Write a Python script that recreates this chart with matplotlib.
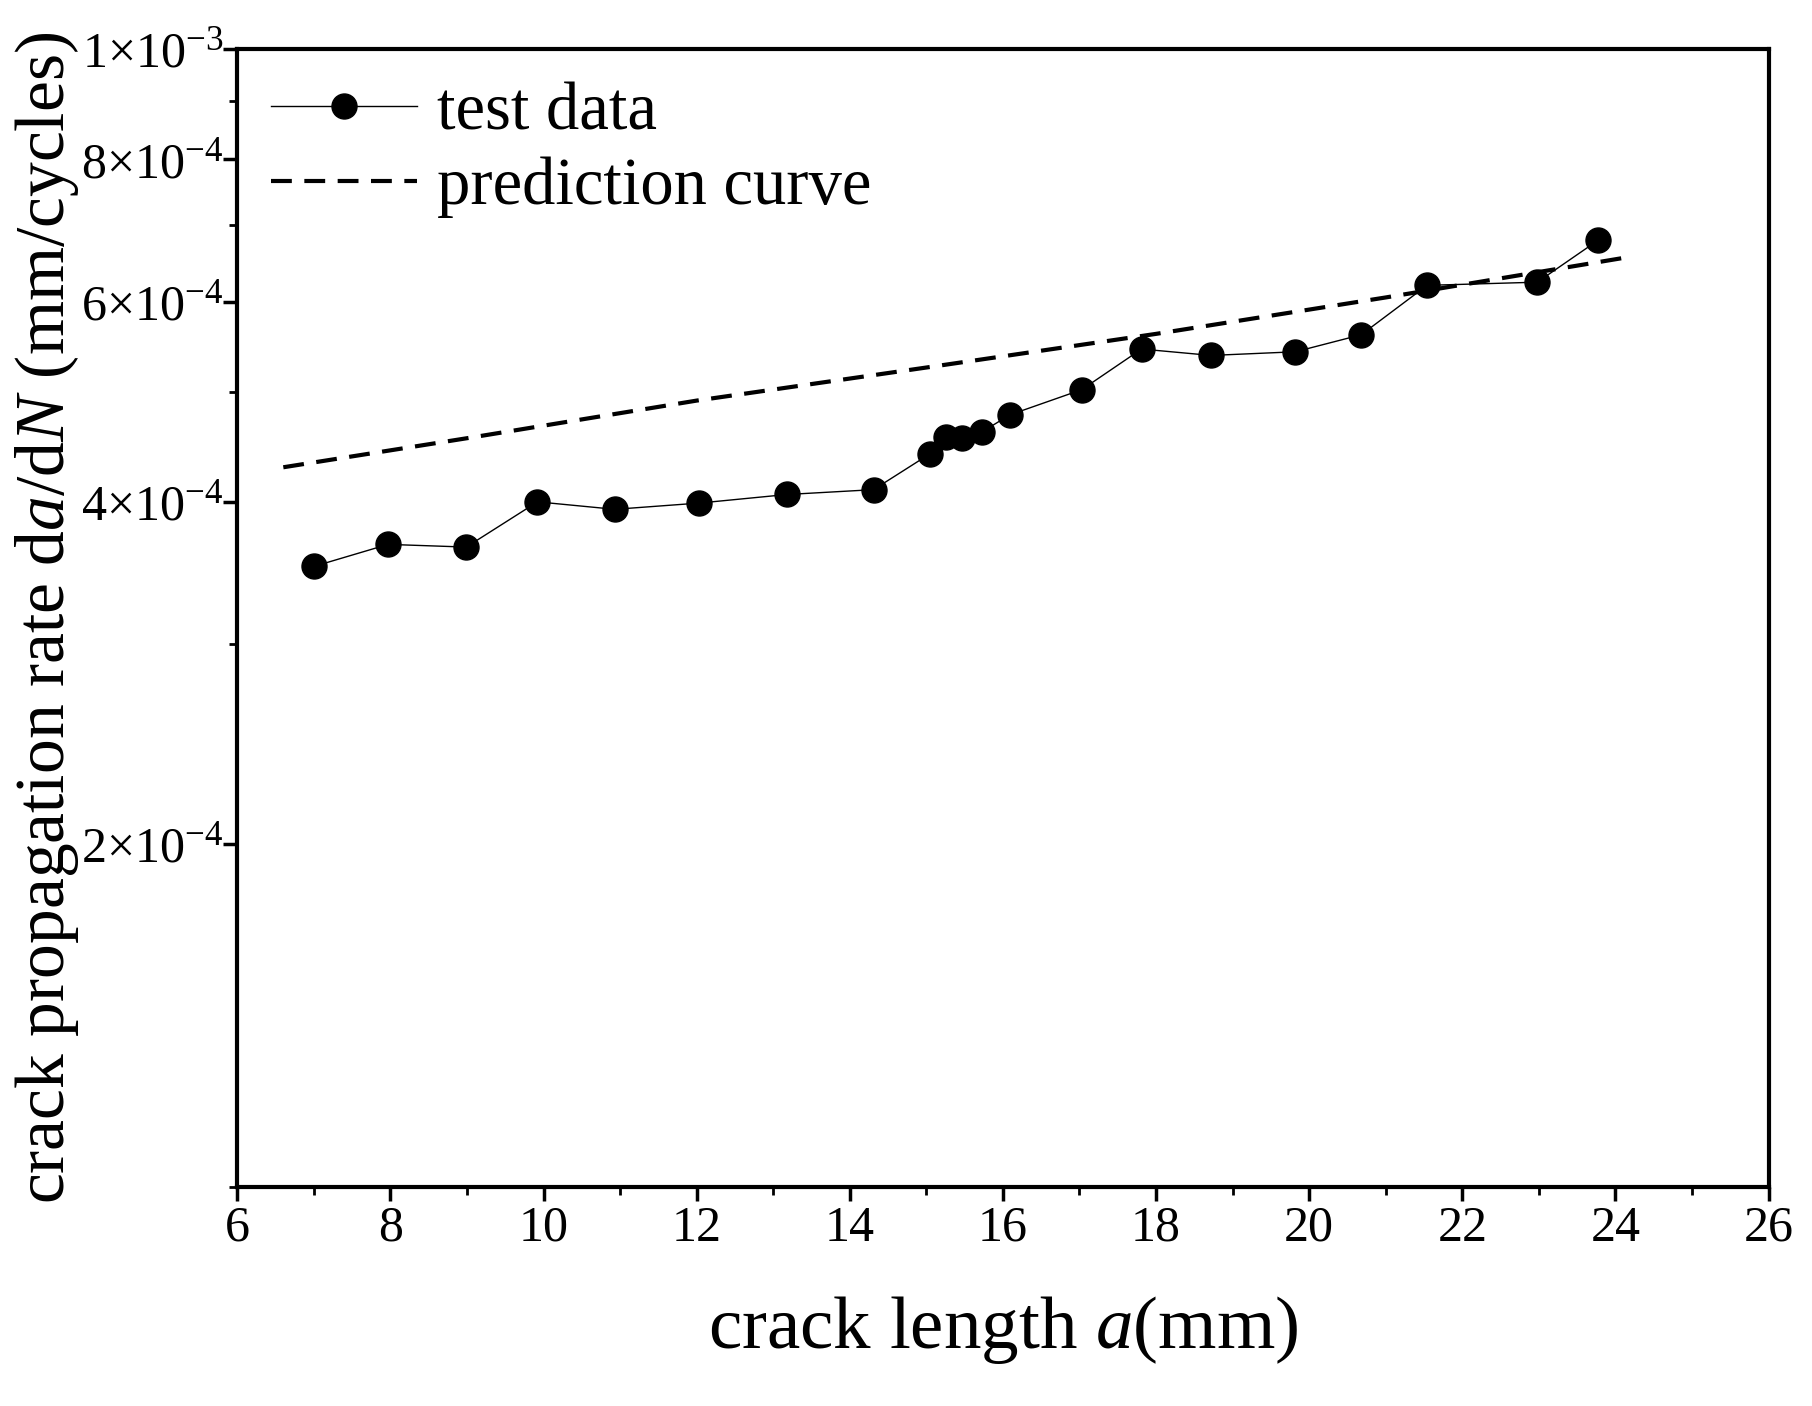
import matplotlib
matplotlib.use("Agg")
import matplotlib.pyplot as plt
from matplotlib.ticker import FixedLocator, FixedFormatter, MultipleLocator, NullFormatter

plt.rcParams["font.family"] = "Liberation Serif"
plt.rcParams["mathtext.fontset"] = "custom"
plt.rcParams["mathtext.rm"] = "Liberation Serif"
plt.rcParams["mathtext.it"] = "Liberation Serif:italic"

a_test = [7.0, 7.97, 8.99, 9.92, 10.93, 12.03, 13.18, 14.31, 15.05, 15.25, 15.47, 15.73,
          16.09, 17.03, 17.81, 18.72, 19.82, 20.68, 21.54, 22.98, 23.77]
rate_test = [3.51e-4, 3.67e-4, 3.65e-4, 4.00e-4, 3.94e-4, 3.99e-4, 4.06e-4, 4.10e-4, 4.41e-4,
             4.56e-4, 4.55e-4, 4.61e-4, 4.77e-4, 5.02e-4, 5.45e-4, 5.38e-4, 5.42e-4, 5.61e-4,
             6.20e-4, 6.24e-4, 6.79e-4]
a_pred = [6.6, 9.0, 12.0, 15.0, 18.0, 21.0, 24.2]
rate_pred = [4.29e-4, 4.55e-4, 4.91e-4, 5.25e-4, 5.62e-4, 6.05e-4, 6.57e-4]

ytick_vals = [2e-4, 4e-4, 6e-4, 8e-4, 1e-3]
ytick_labels = [r"$2{\times}10^{-4}$", r"$4{\times}10^{-4}$", r"$6{\times}10^{-4}$",
                r"$8{\times}10^{-4}$", r"$1{\times}10^{-3}$"]

fig = plt.figure(figsize=(18.12, 14.06), dpi=100)
ax = fig.add_axes([0.131, 0.156, 0.845, 0.809])
ax.plot(a_test, rate_test, "-", color="black", lw=1, marker="o", ms=18, label="test data")
ax.plot(a_pred, rate_pred, "--", color="black", lw=3, dashes=(5, 3), label="prediction curve")
ax.set_yscale("log")
ax.set_xlim(6, 26)
ax.set_ylim(1e-4, 1e-3)
ax.xaxis.set_major_locator(MultipleLocator(2))
ax.xaxis.set_minor_locator(MultipleLocator(1))
ax.yaxis.set_major_locator(FixedLocator(ytick_vals))
ax.yaxis.set_major_formatter(FixedFormatter(ytick_labels))
ax.yaxis.set_minor_locator(FixedLocator([1e-4, 3e-4, 5e-4, 7e-4, 9e-4]))
ax.yaxis.set_minor_formatter(NullFormatter())
for s in ax.spines.values():
    s.set_linewidth(3)
ax.tick_params(which="major", length=10, width=2.5, labelsize=36)
ax.tick_params(which="minor", length=6, width=2)
ax.tick_params(axis="y", pad=0)
ax.set_xlabel(r"crack length $\mathit{a}$(mm)", fontsize=54, labelpad=30)
ax.set_ylabel(r"crack propagation rate d$\mathit{a}$/d$\mathit{N}$ (mm/cycles)", fontsize=50, labelpad=0)
ax.legend(loc="upper left", fontsize=48, frameon=False, handlelength=2.2,
          borderaxespad=0.1, handletextpad=0.3, labelspacing=0.2)
fig.savefig("out.png", dpi=100)
